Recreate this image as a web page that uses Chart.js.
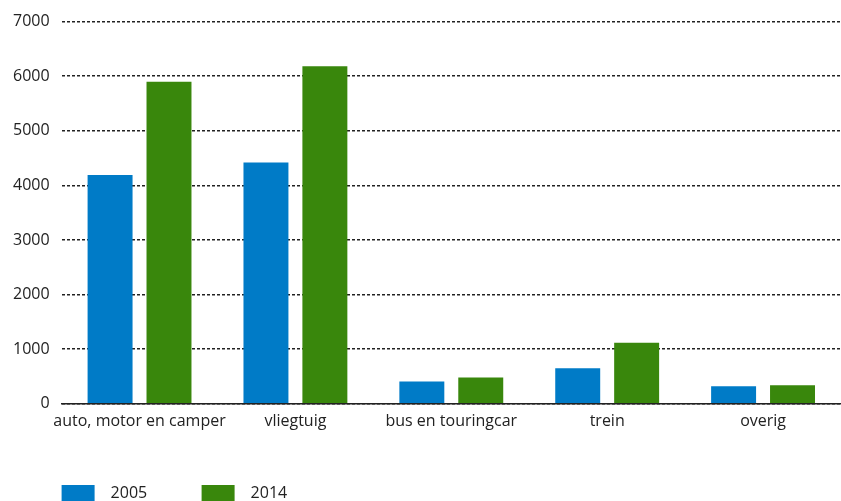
<!DOCTYPE html>
<html>
<head>
<meta charset="utf-8">
<script src="https://cdn.jsdelivr.net/npm/chart.js@4"></script>
<style>
  html, body { margin: 0; padding: 0; background: #fff; }
  #wrap { width: 841px; height: 501px; }
</style>
</head>
<body>
<div id="wrap"><canvas id="myChart" width="841" height="501"></canvas></div>
<script>
// data
const categories = ["auto, motor en camper", "vliegtuig", "bus en touringcar", "trein", "overig"];
const values2005 = [4190, 4420, 410, 650, 320];
const values2014 = [5900, 6180, 480, 1120, 340];
const yTicks = [0, 1000, 2000, 3000, 4000, 5000, 6000, 7000];

const FONT = "'Open Sans', 'Noto Sans', sans-serif";

// legend drawn at the bottom left, under the chart area
const bottomLegend = {
  id: "bottomLegend",
  afterDraw(chart) {
    const ctx = chart.ctx;
    let x = chart.chartArea.left;
    ctx.save();
    ctx.font = "16px " + FONT;
    ctx.textBaseline = "middle";
    chart.data.datasets.forEach(ds => {
      ctx.fillStyle = ds.backgroundColor;
      ctx.fillRect(x, 485, 33, 18);
      ctx.fillStyle = "#222";
      ctx.fillText(ds.label, x + 49, 493);
      x += 140;
    });
    ctx.restore();
  }
};

const ctx = document.getElementById("myChart").getContext("2d");
new Chart(ctx, {
  type: "bar",
  data: {
    labels: categories,
    datasets: [
      { label: "2005", data: values2005, backgroundColor: "#007BC7" },
      { label: "2014", data: values2014, backgroundColor: "#39870C" }
    ]
  },
  options: {
    responsive: false,
    animation: false,
    layout: { padding: { top: 5, right: 0, bottom: 70, left: 1 } },
    datasets: {
      bar: { categoryPercentage: 0.756, barPercentage: 0.763 }
    },
    plugins: {
      legend: { display: false },
      tooltip: { enabled: false }
    },
    scales: {
      x: {
        grid: { display: false },
        border: { display: true, color: "#222", width: 1.5 },
        ticks: {
          color: "#222", font: { family: FONT, size: 16 }, padding: 0,
          maxRotation: 0, minRotation: 0, autoSkip: false
        }
      },
      y: {
        min: 0,
        max: 7000,
        afterBuildTicks: axis => { axis.ticks = yTicks.map(v => ({ value: v })); },
        grid: { color: "#222", lineWidth: 1.5, drawTicks: false },
        border: { display: false, dash: [3, 2] },
        ticks: {
          color: "#222", font: { family: FONT, size: 16 }, padding: 12,
          callback: v => String(v)
        }
      }
    }
  },
  plugins: [bottomLegend]
});
</script>
</body>
</html>
